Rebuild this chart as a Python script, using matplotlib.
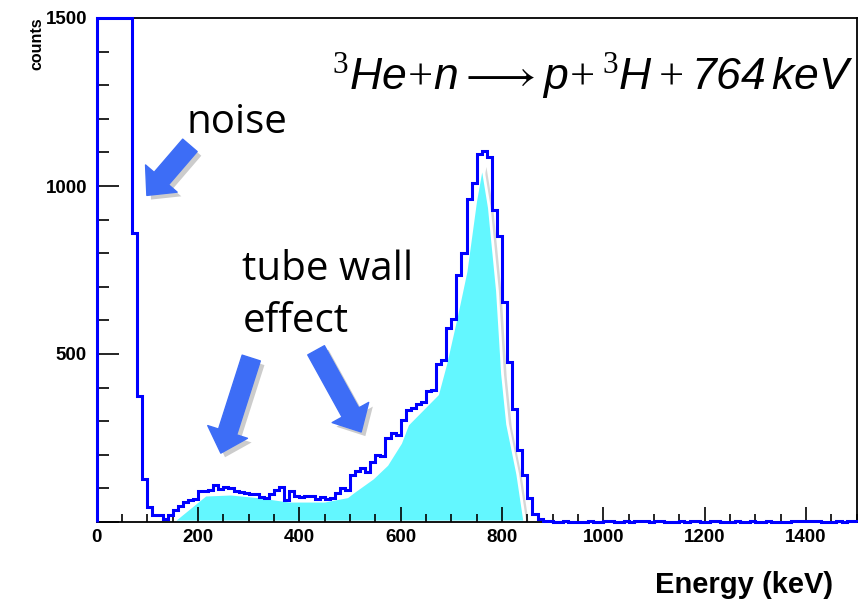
import numpy as np
import matplotlib
matplotlib.use('Agg')
import matplotlib.pyplot as plt
import matplotlib.patheffects as pe
from matplotlib.ticker import MultipleLocator

# Measured spectrum, 10 keV bins from 0 to 1500 keV (first bins saturate at 1500)
bin_width = 10
counts = [
    1500, 1500, 1500, 1500, 1500, 1500, 1500, 860, 375, 128,
    45, 20, 20, 10, 20, 35, 48, 60, 66, 68,
    92, 92, 95, 110, 98, 105, 100, 92, 88, 85,
    84, 82, 75, 72, 84, 95, 103, 66, 92, 78,
    74, 76, 76, 67, 74, 68, 72, 86, 100, 96,
    140, 152, 162, 150, 180, 200, 196, 250, 265, 258,
    305, 332, 340, 350, 356, 390, 392, 470, 483, 578,
    605, 735, 802, 960, 1010, 1095, 1103, 1085, 930, 850,
    655, 475, 335, 215, 140, 70, 25, 8, 3, 2,
    1, 0, 2, 0, 1, 0, 0, 3, 1, 0,
    4, 3, 1, 0, 2, 0, 4, 4, 3, 1,
    3, 3, 1, 0, 0, 2, 0, 2, 2, 0,
    1, 3, 3, 0, 1, 0, 2, 0, 1, 2,
    0, 1, 2, 0, 0, 1, 0, 2, 3, 3,
    3, 2, 3, 0, 1, 0, 2, 1, 2, 2,
]

# Simulated response (filled shape)
sim_energy = [150, 215, 265, 320, 380, 450, 495, 506, 545, 573, 600, 614,
              673, 689, 710, 729, 748, 761, 775, 791, 801, 811, 831, 845]
sim_counts = [0, 80, 83, 75, 62, 62, 75, 88, 130, 170, 235, 290,
              380, 470, 610, 745, 955, 1065, 935, 687, 440, 291, 142, 0]

# Arrow annotations: (tail energy, tail counts, head energy, head counts)
arrows = [
    (184, 1121, 99, 972),
    (305, 488, 245, 205),
    (433, 511, 522, 268),
]

edges = np.arange(len(counts) + 1) * bin_width

plt.rcParams['mathtext.fontset'] = 'custom'
plt.rcParams['mathtext.it'] = 'Liberation Sans:italic'
plt.rcParams['mathtext.sf'] = 'Liberation Sans:italic'
plt.rcParams['mathtext.rm'] = 'Liberation Serif'
plt.rcParams['mathtext.bf'] = 'Liberation Sans:bold'

fig = plt.figure(figsize=(8.58, 6.01), dpi=100)
ax = fig.add_axes([96.7 / 858, 1 - 522 / 601, 760 / 858, 504 / 601])

# Simulation fill with a white rim and soft shadow
ax.fill(sim_energy, sim_counts, facecolor='#63f7ff', edgecolor='white', lw=2, zorder=1,
        path_effects=[pe.SimplePatchShadow(offset=(3, -2), shadow_rgbFace='0.55', alpha=0.35),
                      pe.Normal()])

# Measured histogram outline
ax.stairs(counts, edges, color='#0000ff', lw=2.2, zorder=3, clip_on=False)

ax.set_xlim(0, 1500)
ax.set_ylim(0, 1500)

# ROOT-like axes
ax.xaxis.set_major_locator(MultipleLocator(200))
ax.xaxis.set_minor_locator(MultipleLocator(50))
ax.yaxis.set_major_locator(MultipleLocator(500))
ax.yaxis.set_minor_locator(MultipleLocator(100))
ax.tick_params(axis='x', which='major', direction='in', length=10.5, width=1.2, pad=5)
ax.tick_params(axis='x', which='minor', direction='in', length=5.5, width=1.2)
ax.tick_params(axis='y', which='major', direction='in', length=16, width=1.2, pad=7)
ax.tick_params(axis='y', which='minor', direction='in', length=8.5, width=1.2)
for lab in ax.get_xticklabels():
    lab.set_fontfamily('Liberation Sans')
    lab.set_fontweight('bold')
    lab.set_fontsize(13.5)
ax.set_yticks([0, 500, 1000, 1500])
ax.set_yticklabels(['', '500', '1000', '1500'], fontfamily='Liberation Sans',
                   fontweight='bold', fontsize=13.5)
for s in ax.spines.values():
    s.set_linewidth(1.3)

fig.text(37 / 858, 1 - 17 / 601, 'counts', rotation=90, ha='center', va='top',
         fontfamily='Liberation Sans', fontweight='bold', fontsize=11.5)
fig.text(833 / 858, 1 - 593 / 601, 'Energy (keV)', ha='right', va='baseline',
         fontfamily='Liberation Sans', fontweight='bold', fontsize=21)

# Reaction equation
fig.text(593 / 858, 1 - 90 / 601,
         r'${}^{3}He\!+\!n \longrightarrow p\!+{}^{3}H + \mathsf{764}\,\mathsf{keV}$',
         ha='center', va='baseline', fontsize=32)

# Annotations
fig.text(187 / 858, 1 - 133 / 601, 'noise', fontfamily='Open Sans', fontsize=29, va='baseline')
fig.text(242 / 858, 1 - 280 / 601, 'tube wall', fontfamily='Open Sans', fontsize=29, va='baseline')
fig.text(243 / 858, 1 - 332 / 601, 'effect', fontfamily='Open Sans', fontsize=29, va='baseline')

for x0, y0, x1, y1 in arrows:
    ax.annotate('', xy=(x1, y1), xytext=(x0, y0),
                arrowprops=dict(arrowstyle='simple,head_length=1.6,head_width=3.0,tail_width=1.37',
                                mutation_scale=10, color='#3d6df6', shrinkA=0, shrinkB=0,
                                path_effects=[pe.SimplePatchShadow(offset=(3, -3), shadow_rgbFace='0.5',
                                                                   alpha=0.4), pe.Normal()]),
                zorder=4)

plt.savefig('out.png', dpi=100)
